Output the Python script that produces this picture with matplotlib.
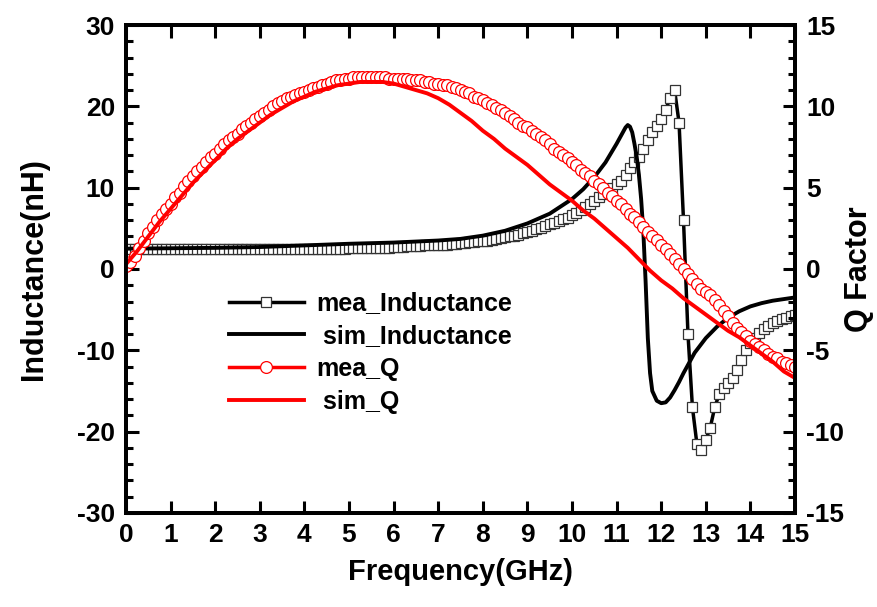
import numpy as np
import matplotlib
matplotlib.use("Agg")
import matplotlib.pyplot as plt
from matplotlib.lines import Line2D
from matplotlib.ticker import MultipleLocator

plt.rcParams['font.family'] = ['Liberation Sans', 'DejaVu Sans']
plt.rcParams['font.weight'] = 'bold'
plt.rcParams['axes.unicode_minus'] = False

# measured sweep, 0 - 15 GHz in 0.1 GHz steps
f_mea = np.round(np.arange(0, 151) * 0.1, 2)

mea_L = ([2.4] * 30 + [2.5] * 20 + [2.6] * 10 +
         [2.7, 2.7, 2.7, 2.8, 2.8, 2.8, 2.8, 2.9, 2.9, 2.9,
          3.0, 3.0, 3.0, 3.1, 3.1, 3.2, 3.2, 3.3, 3.3, 3.4,
          3.5, 3.5, 3.6, 3.7, 3.8, 3.9, 4.0, 4.1, 4.2, 4.4,
          4.5, 4.7, 4.9, 5.1, 5.3, 5.5, 5.7, 5.9, 6.1, 6.3,
          6.6, 6.9, 7.2, 7.6, 8.0, 8.4, 8.8, 9.2, 9.6, 10.0,
          10.4, 10.8, 11.6, 12.4, 13.1, 13.8, 14.8, 15.8, 16.8, 17.6,
          18.5, 19.6, 21.0, 22.0, 18.0, 6.0, -8.0, -17.0, -21.5, -22.3,
          -21.0, -19.5, -17.0, -15.4, -14.6, -14.0, -13.4, -12.4, -11.2, -10.0,
          -9.1, -8.5, -7.9, -7.4, -7.0, -6.7, -6.4, -6.2, -6.0, -5.8,
          -5.6])

mea_Q = [0.2, 0.4, 0.8, 1.3, 1.7, 2.2, 2.6, 3.0, 3.4, 3.7,
         4.0, 4.4, 4.7, 5.1, 5.4, 5.7, 6.0, 6.3, 6.6, 6.9,
         7.1, 7.4, 7.7, 7.9, 8.1, 8.3, 8.6, 8.8, 9.0, 9.2,
         9.4, 9.6, 9.8, 10.0, 10.2, 10.3, 10.5, 10.6, 10.7, 10.8,
         10.9, 11.0, 11.1, 11.2, 11.3, 11.4, 11.5, 11.6, 11.6, 11.7,
         11.7, 11.8, 11.8, 11.8, 11.8, 11.8, 11.8, 11.8, 11.8, 11.7,
         11.7, 11.7, 11.7, 11.7, 11.6, 11.6, 11.6, 11.5, 11.5, 11.4,
         11.4, 11.3, 11.3, 11.2, 11.1, 11.0, 10.9, 10.8, 10.6, 10.5,
         10.4, 10.2, 10.1, 9.9, 9.8, 9.6, 9.4, 9.2, 9.0, 8.8,
         8.7, 8.5, 8.3, 8.1, 7.9, 7.7, 7.4, 7.2, 7.0, 6.8,
         6.6, 6.4, 6.1, 5.9, 5.7, 5.4, 5.2, 5.0, 4.7, 4.5,
         4.2, 4.0, 3.7, 3.4, 3.2, 2.9, 2.6, 2.3, 2.0, 1.8,
         1.5, 1.2, 0.9, 0.6, 0.3, 0.0, -0.3, -0.6, -0.9, -1.2,
         -1.4, -1.6, -1.9, -2.2, -2.6, -2.9, -3.3, -3.6, -3.9, -4.1,
         -4.4, -4.6, -4.8, -5.0, -5.2, -5.4, -5.5, -5.7, -5.8, -5.9,
         -6.0]

# simulated inductance
f_simL = [0, 1, 2, 3, 4, 5, 6, 7, 7.5, 8, 8.5, 9, 9.5, 10, 10.25, 10.5, 10.75,
          11.0, 11.1, 11.2, 11.25, 11.3, 11.35, 11.4, 11.45, 11.5, 11.55, 11.6,
          11.65, 11.7, 11.75, 11.8, 11.9, 12.0, 12.1, 12.2, 12.3, 12.4, 12.5,
          12.75, 13.0, 13.25, 13.5, 13.75, 14.0, 14.25, 14.5, 14.75, 15.0]
sim_L = [2.5, 2.55, 2.6, 2.7, 2.9, 3.1, 3.25, 3.5, 3.7, 4.1, 4.7, 5.6, 6.8, 8.6,
         9.8, 11.3, 13.1, 15.4, 16.4, 17.4, 17.7, 17.5, 16.8, 15.4, 13.8, 11.6,
         8.6, 4.5, -1.5, -8.5, -12.8, -15.0, -16.2, -16.5, -16.4, -15.8, -14.9,
         -13.9, -12.8, -10.3, -8.5, -7.1, -6.0, -5.2, -4.6, -4.2, -3.9, -3.7, -3.5]

# simulated Q, 0.25 GHz steps
f_simQ = [0, 0.25, 0.5, 0.75, 1, 1.25, 1.5, 1.75, 2, 2.25, 2.5, 2.75, 3, 3.25,
          3.5, 3.75, 4, 4.25, 4.5, 4.75, 5, 5.25, 5.5, 5.75, 6, 6.25, 6.5, 6.75,
          7, 7.25, 7.5, 7.75, 8, 8.25, 8.5, 8.75, 9, 9.25, 9.5, 9.75, 10, 10.25,
          10.5, 10.75, 11, 11.25, 11.5, 11.75, 12, 12.25, 12.5, 12.75, 13, 13.25,
          13.5, 13.75, 14, 14.25, 14.5, 14.75, 15]
sim_Q = [0.3, 1.1, 2.0, 2.9, 3.7, 4.5, 5.3, 6.0, 6.7, 7.4, 8.0, 8.5, 9.0, 9.5,
         9.9, 10.3, 10.6, 10.9, 11.1, 11.3, 11.4, 11.5, 11.5, 11.5, 11.4, 11.2,
         11.0, 10.8, 10.5, 10.1, 9.6, 9.1, 8.5, 8.0, 7.4, 6.9, 6.4, 5.8, 5.2,
         4.7, 4.2, 3.6, 3.1, 2.5, 1.9, 1.3, 0.6, -0.1, -0.7, -1.2, -1.8, -2.3,
         -2.8, -3.3, -3.8, -4.2, -4.7, -5.2, -5.7, -6.3, -6.7]

fig = plt.figure(figsize=(8.77, 6.07), dpi=100)
ax = fig.add_axes([0.1437, 0.1549, 0.7628, 0.8039])
ax2 = ax.twinx()

ax.plot(f_mea, mea_L, '-s', color='black', lw=2.5, ms=6.5,
        mfc='white', mec='#333333', mew=0.9)
ax.plot(f_simL, sim_L, '-', color='black', lw=2.8)
ax2.plot(f_mea, mea_Q, '-o', color='red', lw=2.5, ms=8.5,
         mfc='white', mec='red', mew=0.9)
ax2.plot(f_simQ, sim_Q, '-', color='red', lw=2.8)

ax.set_xlim(0, 15)
ax.set_ylim(-30, 30)
ax2.set_ylim(-15, 15)
ax.xaxis.set_major_locator(MultipleLocator(1))
ax.yaxis.set_major_locator(MultipleLocator(10))
ax.yaxis.set_minor_locator(MultipleLocator(2))
ax2.yaxis.set_major_locator(MultipleLocator(5))
ax2.yaxis.set_minor_locator(MultipleLocator(1))

for a in (ax, ax2):
    for s in a.spines.values():
        s.set_linewidth(2.8)
ax.tick_params(axis='x', which='major', direction='in', top=True, length=9,
               width=2.2, labelsize=19, pad=7)
ax.tick_params(axis='y', which='major', direction='in', length=9, width=2.2,
               labelsize=19, pad=8)
ax.tick_params(axis='y', which='minor', direction='in', length=5, width=2.2)
ax2.tick_params(axis='y', which='major', direction='in', length=9, width=2.2,
                labelsize=19, pad=8)
ax2.tick_params(axis='y', which='minor', direction='in', length=5, width=2.2)

ax.set_xlabel('Frequency(GHz)', fontsize=21, fontweight='bold', labelpad=8)
ax.set_ylabel('Inductance(nH)', fontsize=22, fontweight='bold', labelpad=20)
ax2.set_ylabel('Q Factor', fontsize=22, fontweight='bold', labelpad=0)

handles = [
    Line2D([], [], color='black', lw=2.5, marker='s', ms=6.5, mfc='white',
           mec='#333333', mew=0.9),
    Line2D([], [], color='black', lw=2.8),
    Line2D([], [], color='red', lw=2.5, marker='o', ms=8.5, mfc='white',
           mec='red', mew=0.9),
    Line2D([], [], color='red', lw=2.8),
]
labels = ['mea_Inductance', ' sim_Inductance', 'mea_Q', ' sim_Q']
ax2.legend(handles, labels, loc='upper left', bbox_to_anchor=(0.12, 0.5),
           frameon=False, handlelength=3.0, handletextpad=0.5,
           labelspacing=0.35, prop={'weight': 'bold', 'size': 18})

fig.savefig('out.png', dpi=100)
